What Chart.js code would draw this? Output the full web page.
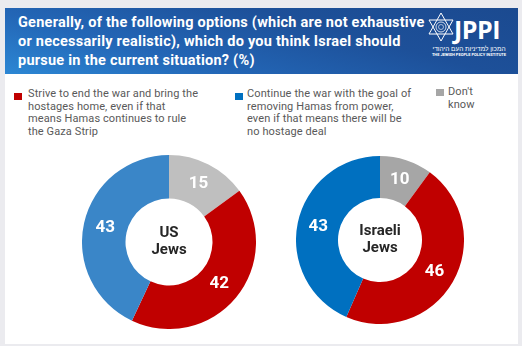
<!DOCTYPE html>
<html>
<head>
<meta charset="utf-8">
<script src="https://cdn.jsdelivr.net/npm/chart.js@4.4.1/dist/chart.umd.min.js"></script>
<style>
  body { margin: 0; width: 522px; height: 346px; overflow: hidden; background: #ebebef; font-family: Roboto, sans-serif; position: relative; }
  .card { position: absolute; left: 5px; top: 8px; width: 513px; height: 336px; background: #fff; }
  .header { position: absolute; left: 5px; top: 8px; width: 513px; height: 66px; background: linear-gradient(15deg, #2c87d4 0%, #2366b6 30%, #1d5099 65%, #1b4a90 100%); }
  .title { position: absolute; left: 18px; top: 13px; color: #fff; font-weight: 700; font-size: 14.5px; letter-spacing: 0.24px; line-height: 19px; white-space: nowrap; }
  .logo-text { position: absolute; left: 454px; top: 12px; color: #fff; font-weight: 700; font-size: 25px; letter-spacing: -0.5px; font-family: "Open Sans", sans-serif; }
  .heb { position: absolute; left: 430px; top: 44px; width: 78px; text-align: center; color: #fff; font-size: 6.5px; font-family: "Noto Sans", sans-serif; white-space: nowrap; }
  .eng { position: absolute; left: 430px; top: 52px; width: 78px; text-align: center; color: #fff; font-size: 4px; font-weight: 700; white-space: nowrap; }
  .star { position: absolute; left: 427px; top: 12px; }
  .legend { position: absolute; color: #595959; font-size: 11px; letter-spacing: 0.1px; line-height: 12.7px; white-space: nowrap; }
  .legend .sw { position: absolute; width: 8px; height: 7px; }
  canvas { position: absolute; }
</style>
</head>
<body>
<div class="card"></div>
<div class="header"></div>
<div class="title">Generally, of the following options (which are not exhaustive<br>or necessarily realistic), which do you think Israel should<br>pursue in the current situation? (%)</div>
<svg class="star" width="28" height="30" viewBox="0 0 28 30">
  <polygon points="14,1 26,22 2,22" fill="none" stroke="#fff" stroke-width="1"/>
  <polygon points="14,29 26,8 2,8" fill="none" stroke="#fff" stroke-width="1"/>
  <circle cx="14" cy="15" r="5" fill="none" stroke="#fff" stroke-width="0.8"/>
  <circle cx="14" cy="15" r="2.5" fill="none" stroke="#fff" stroke-width="0.6"/>
</svg>
<div class="logo-text">JPPI</div>
<div class="heb" dir="rtl">המכון למדיניות העם היהודי</div>
<div class="eng">THE JEWISH PEOPLE POLICY INSTITUTE</div>

<div class="legend" style="left:28px; top:88px;"><span class="sw" style="left:-14px; top:5px; background:#c00000;"></span><span id="leg0"></span></div>
<div class="legend" style="left:247px; top:88px;"><span class="sw" style="left:-12px; top:5px; background:#0070c0;"></span><span id="leg1"></span></div>
<div class="legend" style="left:448px; top:86px;"><span class="sw" style="left:-12px; top:3px; background:#a6a6a6;"></span><span id="leg2"></span></div>

<canvas id="usChart" width="174" height="174" style="left:82px; top:155px;"></canvas>
<canvas id="ilChart" width="168" height="168" style="left:296px; top:156px;"></canvas>

<script>
// answer options (legend text, with its line breaks)
const answers = [
  "Strive to end the war and bring the\nhostages home, even if that\nmeans Hamas continues to rule\nthe Gaza Strip",
  "Continue the war with the goal of\nremoving Hamas from power,\neven if that means there will be\nno hostage deal",
  "Don't\nknow"
];

// slice order round the donut, clockwise from the top
const sliceLabels = ["Don't know", "End the war", "Continue the war"];
const usJews = [15, 42, 43];
const israeliJews = [10, 46, 43];
const usColors = ['#bfbfbf', '#c00000', '#3a86c8'];
const israeliColors = ['#a6a6a6', '#c00000', '#0070c0'];

answers.forEach((a, i) => {
  document.getElementById('leg' + i).innerHTML = a.replace(/\n/g, '<br>');
});

const donutText = {
  id: 'donutText',
  afterDatasetsDraw(chart, args, opts) {
    const ctx = chart.ctx;
    const meta = chart.getDatasetMeta(0);
    const values = chart.data.datasets[0].data;
    ctx.save();
    ctx.textAlign = 'center';
    ctx.textBaseline = 'middle';
    ctx.fillStyle = '#fff';
    ctx.font = 'bold 17px Roboto';
    meta.data.forEach((arc, i) => {
      const p = arc.tooltipPosition();
      ctx.fillText(values[i], p.x, p.y);
    });
    // group name in the hole
    const c = meta.data[0];
    ctx.fillStyle = '#262626';
    ctx.font = 'bold 15px Roboto';
    const lines = opts.center || [];
    lines.forEach((t, i) => {
      ctx.fillText(t, c.x, c.y + (i - (lines.length - 1) / 2) * 17);
    });
    ctx.restore();
  }
};

function makeDonut(id, values, colors, center) {
  new Chart(document.getElementById(id), {
    type: 'doughnut',
    data: {
      labels: sliceLabels,
      datasets: [{
        data: values,
        backgroundColor: colors,
        borderWidth: 0
      }]
    },
    options: {
      responsive: false,
      animation: false,
      cutout: '50%',
      layout: { padding: 0 },
      plugins: {
        legend: { display: false },
        tooltip: { enabled: false },
        donutText: { center: center }
      }
    },
    plugins: [donutText]
  });
}

makeDonut('usChart', usJews, usColors, ['US', 'Jews']);
makeDonut('ilChart', israeliJews, israeliColors, ['Israeli', 'Jews']);
</script>
</body>
</html>
